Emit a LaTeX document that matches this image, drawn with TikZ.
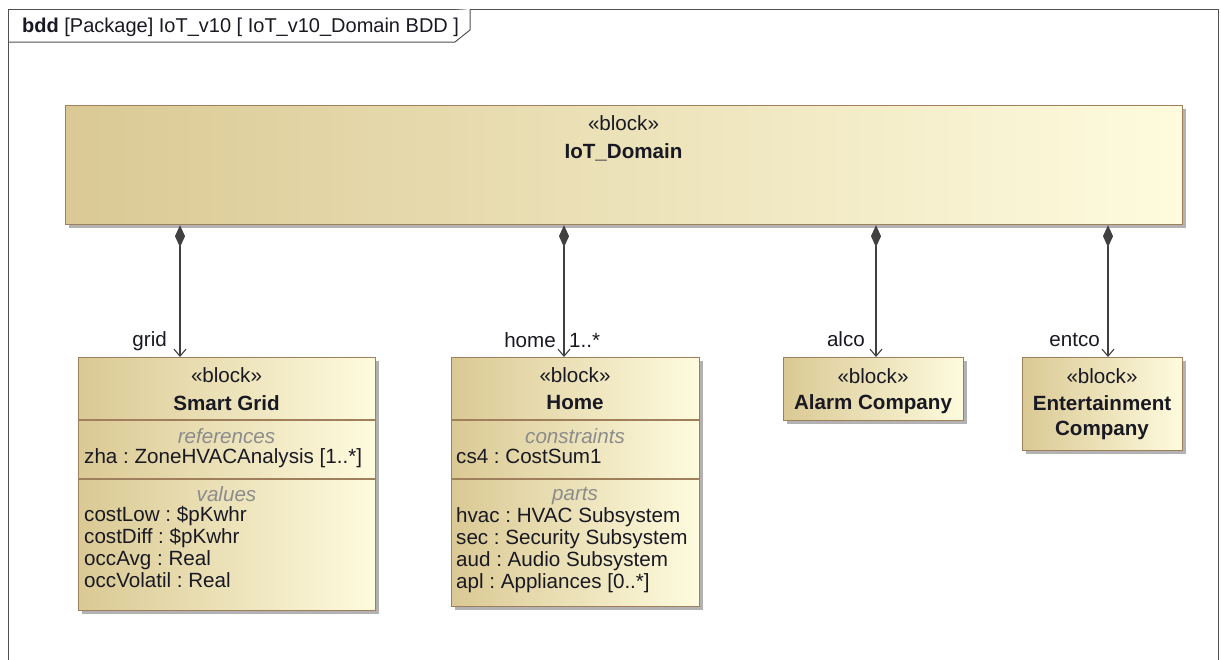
\documentclass[tikz,border=0pt]{standalone}
\usepackage{fontspec}
\setmainfont{Liberation Sans}
\frenchspacing
\usetikzlibrary{arrows.meta,shadows}
\definecolor{blkL}{RGB}{218,201,148}
\definecolor{blkR}{RGB}{254,251,222}
\definecolor{blkB}{RGB}{160,128,92}
\definecolor{connc}{RGB}{64,64,64}
\definecolor{txtc}{RGB}{25,25,35}
\definecolor{hdrc}{RGB}{140,140,140}
\definecolor{framec}{RGB}{80,80,80}
\newcommand{\fs}{\fontsize{20.6}{22}\selectfont}
\newcommand{\fst}{\fontsize{20}{22}\selectfont}
\tikzset{
  blk/.style={draw=blkB, line width=1.2pt, left color=blkL, right color=blkR,
    rectangle, inner sep=0pt, anchor=north west,
    drop shadow={shadow xshift=3pt, shadow yshift=-3pt, fill=black!30, opacity=1}},
  cline/.style={draw=blkB, line width=1.2pt},
  tl/.style={inner sep=0pt, anchor=base west, font=\fs, text=txtc},
  tc/.style={inner sep=0pt, anchor=base, font=\fs, text=txtc},
  tb/.style={tc, font=\fs\bfseries},
  th/.style={tc, font=\fs\itshape, text=hdrc},
  tr/.style={inner sep=0pt, anchor=base east, font=\fs, text=txtc},
  comp/.style={draw=connc, line width=1.1pt,
    {Diamond[length=22pt,width=10pt]}-{Straight Barb[length=7pt,width=12pt]}},
  framel/.style={draw=framec, line width=1pt}
}
\begin{document}
\begin{tikzpicture}[x=1pt,y=-1pt]
\useasboundingbox (0,0) rectangle (1221,659);
\fill[white] (0,0) rectangle (1221,659);
% frame
\draw[framel] (8,700) -- (8,9) -- (1218,9) -- (1218,700);
\draw[framel, fill=white] (8,42) -- (455,42) -- (470,30) -- (470,9);
\node[tl, font=\fst] (title) at (22,32) {\textbf{bdd} [Package] IoT\_v10 [ IoT\_v10\_Domain BDD ]};

% blocks
\node[blk, minimum width=1117pt, minimum height=119pt] (dom) at (65,105) {};
\node[blk, minimum width=297pt, minimum height=253pt] (sg) at (78,357) {};
\node[blk, minimum width=248pt, minimum height=249pt] (home) at (451,357) {};
\node[blk, minimum width=180pt, minimum height=63pt] (alarm) at (783,357) {};
\node[blk, minimum width=160pt, minimum height=93pt] (ent) at (1022,357) {};

% IoT_Domain
\node[tc] (domst) at (623.5,130) {«block»};
\node[tb] (domnm) at (623.5,158) {IoT\_Domain};

% Smart Grid
\draw[cline] (sg.west |- 0,420) -- (sg.east |- 0,420);
\draw[cline] (sg.west |- 0,479) -- (sg.east |- 0,479);
\node[tc] (sgst) at (226.5,382) {«block»};
\node[tb] (sgnm) at (226.5,410) {Smart Grid};
\node[th] (sgh1) at (226.5,443) {references};
\node[tl] (sgr1) at (84,463) {zha : ZoneHVACAnalysis [1..*]};
\node[th] (sgh2) at (226.5,501) {values};
\node[tl] (sgv1) at (84,521) {costLow : \$pKwhr};
\node[tl] (sgv2) at (84,543) {costDiff : \$pKwhr};
\node[tl] (sgv3) at (84,565) {occAvg : Real};
\node[tl] (sgv4) at (84,587) {occVolatil : Real};

% Home
\draw[cline] (home.west |- 0,420) -- (home.east |- 0,420);
\draw[cline] (home.west |- 0,479) -- (home.east |- 0,479);
\node[tc] (hst) at (575,382) {«block»};
\node[tb] (hnm) at (575,409) {Home};
\node[th] (hh1) at (575,443) {constraints};
\node[tl] (hc1) at (456,463) {cs4 : CostSum1};
\node[th] (hh2) at (575,500) {parts};
\node[tl] (hp1) at (456,522) {hvac : HVAC Subsystem};
\node[tl] (hp2) at (456,544) {sec : Security Subsystem};
\node[tl] (hp3) at (456,566) {aud : Audio Subsystem};
\node[tl] (hp4) at (456,588) {apl : Appliances [0..*]};

% Alarm Company
\node[tc] (ast) at (873,383) {«block»};
\node[tb] (anm) at (873,409) {Alarm Company};

% Entertainment Company
\node[tc] (est) at (1102,383) {«block»};
\node[tb] (enm1) at (1102,410) {Entertainment};
\node[tb] (enm2) at (1102,435) {Company};

% connectors
\draw[comp] (180,0 |- dom.south) -- (180,0 |- sg.north);
\draw[comp] (564,0 |- dom.south) -- (564,0 |- home.north);
\draw[comp] (876,0 |- dom.south) -- (876,0 |- alarm.north);
\draw[comp] (1108,0 |- dom.south) -- (1108,0 |- ent.north);

% role labels
\node[tr] (lgrid) at (167,346) {grid};
\node[tr] (lhome) at (556,347) {home};
\node[tl] (lmult) at (569,347) {1..*};
\node[tr] (lalco) at (865,346) {alco};
\node[tr] (lentco) at (1100,346) {entco};
\end{tikzpicture}
\end{document}
